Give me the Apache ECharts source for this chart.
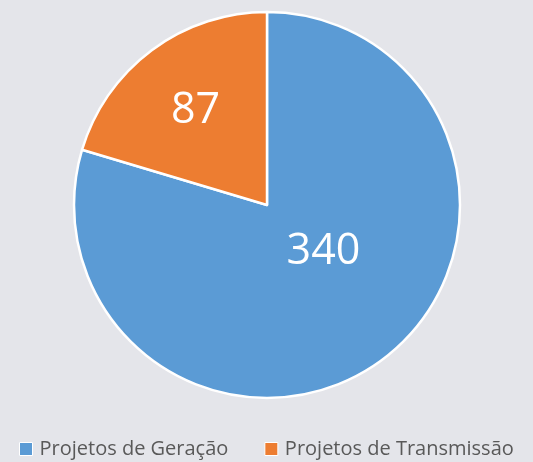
<!DOCTYPE html>
<html>
<head>
<meta charset="utf-8">
<script src="https://cdn.jsdelivr.net/npm/echarts@6/dist/echarts.min.js"></script>
<style>
  html, body { margin: 0; padding: 0; background: #e4e5ea; }
  #chart { width: 533px; height: 462px; }
</style>
</head>
<body>
<div id="chart"></div>
<script>
// dados do gráfico
const categorias = ['Projetos de Geração', 'Projetos de Transmissão']
const valores = [340, 87]
const cores = ['#5b9bd5', '#ed7d31']
// deslocamento dos rótulos (posição "best fit" do Excel)
const deslocRotulos = [[-3, -33], [-12, -14]]

let chart = echarts.init(document.getElementById('chart'))

let dados = categorias.map((nome, i) => ({
  name: nome,
  value: valores[i],
  itemStyle: { color: cores[i] },
  label: { offset: deslocRotulos[i] }
}))

let option = {
  backgroundColor: '#e4e5ea',
  animation: false,
  legend: {
    data: categorias,
    top: 434,
    left: 14,
    icon: 'rect',
    itemWidth: 13,
    itemHeight: 13,
    itemGap: 36,
    itemStyle: { borderColor: '#ffffff', borderWidth: 1 },
    textStyle: {
      color: '#595959',
      fontSize: 20,
      fontFamily: 'Open Sans',
      padding: [0, 0, 0, 2]
    }
  },
  series: [
    {
      type: 'pie',
      center: [267, 205],
      radius: [0, 193],
      startAngle: 90,
      clockwise: true,
      itemStyle: { borderColor: '#ffffff', borderWidth: 2.5 },
      label: {
        show: true,
        position: 'inside',
        formatter: '{c}',
        color: '#ffffff',
        fontSize: 43,
        fontFamily: 'Open Sans'
      },
      labelLine: { show: false },
      emphasis: { disabled: true },
      data: dados
    }
  ]
}
chart.setOption(option)
</script>
</body>
</html>
